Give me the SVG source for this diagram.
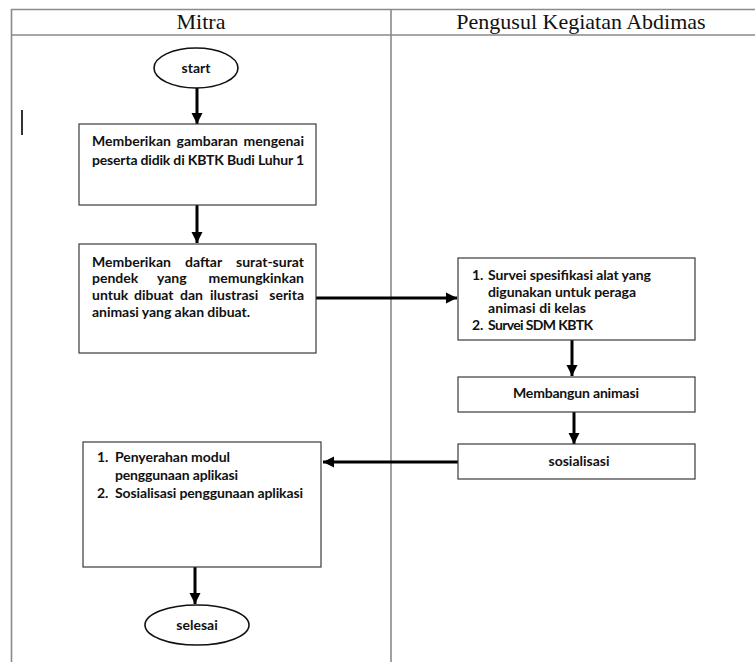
<svg xmlns="http://www.w3.org/2000/svg" width="755" height="662" viewBox="0 0 755 662">
<style>
.grid{stroke:#8a8a8a;stroke-width:1.6;fill:none}
.hdr{font-family:"Liberation Serif","Times New Roman",serif;font-size:22px;fill:#111;text-anchor:middle}
.box{fill:#fff;stroke:#3a3a3a;stroke-width:1.2}
.term{fill:#fff;stroke:#111;stroke-width:1.6}
.t{font-family:Lato,"Liberation Sans",sans-serif;font-weight:bold;font-size:14px;fill:#111}
.c{text-anchor:middle}
.e{text-anchor:end}
.arr{stroke:#000;stroke-width:3;fill:none;marker-end:url(#ah)}
</style>
<defs>
<marker id="ah" markerUnits="userSpaceOnUse" markerWidth="12" markerHeight="12" refX="11" refY="6" orient="auto">
<path d="M0,0.5 L11,6 L0,11.5 Z" fill="#000"/>
</marker>
</defs>
<rect width="755" height="662" fill="#fff"/>
<g id="table">
<line class="grid" x1="11" y1="9.5" x2="755" y2="9.5"/>
<line class="grid" x1="11" y1="35" x2="755" y2="35"/>
<line class="grid" x1="11.5" y1="9" x2="11.5" y2="662"/>
<line class="grid" x1="391" y1="9" x2="391" y2="662"/>
<text class="hdr" x="201" y="29">Mitra</text>
<text class="hdr" x="581" y="29">Pengusul Kegiatan Abdimas</text>
<line x1="22" y1="110" x2="22" y2="135" stroke="#000" stroke-width="1.6"/>
</g>
<g id="connectors">
<line class="arr" x1="197" y1="88" x2="197" y2="124"/>
<line class="arr" x1="197" y1="205" x2="197" y2="243"/>
<line class="arr" x1="316" y1="298" x2="457" y2="298"/>
<line class="arr" x1="572" y1="340" x2="572" y2="376"/>
<line class="arr" x1="574" y1="412" x2="574" y2="444"/>
<line class="arr" x1="458" y1="462" x2="323" y2="462"/>
<line class="arr" x1="195" y1="567" x2="195" y2="604"/>
</g>
<g id="start">
<ellipse class="term" cx="196" cy="68" rx="42" ry="20"/>
<text class="t c" x="196" y="73">start</text>
</g>
<g id="box1">
<rect class="box" x="79" y="124" width="237" height="81"/>
<text class="t" x="92" y="146">Memberikan</text>
<text class="t" x="176.5" y="146">gambaran</text>
<text class="t e" x="304" y="146">mengenai</text>
<text class="t" x="92" y="165" textLength="212" lengthAdjust="spacing">peserta didik di KBTK Budi Luhur 1</text>
</g>
<g id="box2">
<rect class="box" x="79" y="244" width="237" height="109"/>
<text class="t" x="92" y="267">Memberikan</text>
<text class="t" x="185" y="267">daftar</text>
<text class="t e" x="304" y="267">surat-surat</text>
<text class="t" x="92" y="283">pendek</text>
<text class="t" x="157" y="283">yang</text>
<text class="t e" x="304" y="283">memungkinkan</text>
<text class="t" x="92" y="300">untuk</text>
<text class="t" x="134" y="300">dibuat</text>
<text class="t" x="180" y="300">dan</text>
<text class="t" x="210" y="300">ilustrasi</text>
<text class="t e" x="304" y="300">serita</text>
<text class="t" x="92" y="317" textLength="158" lengthAdjust="spacing">animasi yang akan dibuat.</text>
</g>
<g id="box3">
<rect class="box" x="458" y="258" width="237" height="82"/>
<text class="t" x="472" y="280">1.</text>
<text class="t" x="488" y="280" textLength="163" lengthAdjust="spacing">Survei spesifikasi alat yang</text>
<text class="t" x="488" y="297" textLength="148" lengthAdjust="spacing">digunakan untuk peraga</text>
<text class="t" x="488" y="313" textLength="98" lengthAdjust="spacing">animasi di kelas</text>
<text class="t" x="472" y="330">2.</text>
<text class="t" x="488" y="330" textLength="105" lengthAdjust="spacing">Survei SDM KBTK</text>
</g>
<g id="box4">
<rect class="box" x="458" y="377" width="237" height="35"/>
<text class="t c" x="576" y="398" textLength="126" lengthAdjust="spacing">Membangun animasi</text>
</g>
<g id="box5">
<rect class="box" x="458" y="444" width="237" height="35"/>
<text class="t c" x="579" y="466">sosialisasi</text>
</g>
<g id="box6">
<rect class="box" x="83" y="442" width="238" height="125"/>
<text class="t" x="97" y="462">1.</text>
<text class="t" x="115" y="462" textLength="115" lengthAdjust="spacing">Penyerahan modul</text>
<text class="t" x="115" y="480" textLength="123" lengthAdjust="spacing">penggunaan aplikasi</text>
<text class="t" x="97" y="498">2.</text>
<text class="t" x="115" y="498" textLength="188" lengthAdjust="spacing">Sosialisasi penggunaan aplikasi</text>
</g>
<g id="end">
<ellipse class="term" cx="197" cy="625" rx="52" ry="20"/>
<text class="t c" x="197" y="630">selesai</text>
</g>
</svg>
